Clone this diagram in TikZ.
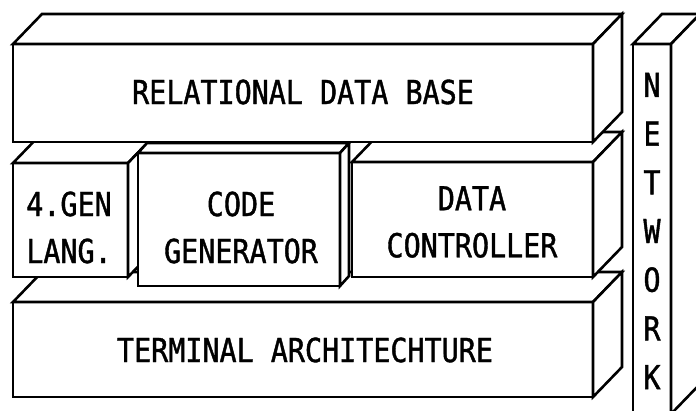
\documentclass[tikz,border=0pt]{standalone}
\usepackage{fontspec}
\usetikzlibrary{calc}
\newfontfamily\labfont[FakeStretch=0.86,FakeBold=1.2]{DejaVu Sans Mono}
\newcommand\drawslab[3]{%
  \draw[face] (#1.north west) -- ++(#2,#3) -- ($(#1.north east)+(#2,#3)$) -- (#1.north east) -- cycle;
  \draw[face] (#1.north east) -- ++(#2,#3) -- ($(#1.south east)+(#2,#3)$) -- (#1.south east) -- cycle;}
\tikzset{
  face/.style={draw=black, fill=white, line width=2.6pt, line join=miter},
  front/.style={face, inner sep=0pt, outer sep=0pt, anchor=north west},
  lbl/.style={font=\labfont\fontsize{33}{47}\selectfont, align=center, inner sep=0pt},
}
\begin{document}
\begin{tikzpicture}[x=1pt, y=-1pt]
\useasboundingbox (0,0) rectangle (696,410);
\clip (0,0) rectangle (696,410);
% terminal architecture slab
\node[front, minimum width=580, minimum height=95] (term) at (13,302) {};
\drawslab{term}{29}{-30}
% middle row
\node[front, minimum width=115, minimum height=114] (gen) at (13,163) {};
\drawslab{gen}{29}{-30}
\node[front, minimum width=241, minimum height=115] (dc) at (352,162) {};
\drawslab{dc}{29}{-30}
\node[front, minimum width=202, minimum height=133] (cg) at (138,153) {};
\drawslab{cg}{9}{-10}
% relational data base slab
\node[front, minimum width=580, minimum height=98] (rdb) at (13,44) {};
\drawslab{rdb}{29}{-30}
% network column
\node[front, minimum width=38, minimum height=370] (net) at (633,44) {};
\drawslab{net}{29}{-30}
% labels
\node[lbl] (t-rdb) at (303,92) {RELATIONAL DATA BASE};
\node[lbl] (t-term) at (305,350) {TERMINAL ARCHITECHTURE};
\node[lbl] (t-gen) at (69,227.5) {4.GEN\\LANG.};
\node[lbl] (t-cg) at (241,227.5) {CODE\\GENERATOR};
\node[lbl] (t-dc) at (472,222) {DATA\\CONTROLLER};
\node[lbl, font=\labfont\fontsize{33}{48.7}\selectfont] (t-net) at (652,231) {N\\E\\T\\W\\O\\R\\K};
\end{tikzpicture}
\end{document}
